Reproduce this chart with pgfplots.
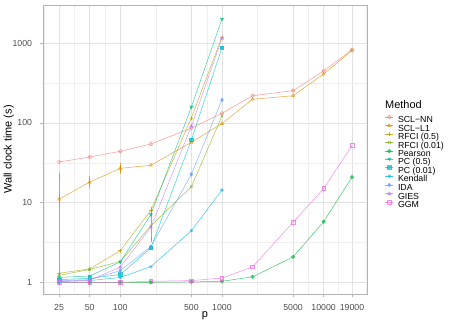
\documentclass[border=0pt]{standalone}
\usepackage{fontspec}
\setmainfont{Liberation Sans}
\usepackage{pgfplots}
\pgfplotsset{compat=1.18}

\definecolor{cA}{HTML}{F8766D}
\definecolor{cB}{HTML}{DE8C00}
\definecolor{cC}{HTML}{B79F00}
\definecolor{cD}{HTML}{7CAE00}
\definecolor{cE}{HTML}{00BA38}
\definecolor{cF}{HTML}{00C08B}
\definecolor{cG}{HTML}{00BFC4}
\definecolor{cH}{HTML}{00B4F0}
\definecolor{cI}{HTML}{619CFF}
\definecolor{cJ}{HTML}{C77CFF}
\definecolor{cK}{HTML}{F564E3}
\definecolor{gridmaj}{HTML}{E2E2E2}
\definecolor{gridmin}{HTML}{EEEEEE}
\definecolor{framecol}{HTML}{B3B3B3}
\definecolor{tickgray}{HTML}{4D4D4D}

\pgfplotsset{
  meth/.style={color=#1, line width=0.5bp, opacity=0.75, mark size=1.8bp,
    mark options={solid, line width=0.6bp}},
  ebar/.style={forget plot, draw=none, mark=none, opacity=0.75,
    error bars/.cd, y dir=both, y explicit, error mark=-,
    error bar style={draw=#1, line width=0.6bp},
    error mark options={draw=#1, line width=0.6bp, mark size=2.5bp}},
}

\begin{document}
\begin{tikzpicture}
\useasboundingbox (-43bp,-32bp) rectangle (414bp,294bp);
\begin{axis}[
  scale only axis,
  width=324bp, height=289bp,
  xmode=log, ymode=log,
  xmin=17.4, xmax=26660,
  ymin=0.713, ymax=3013,
  xtick={25,50,100,500,1000,5000,10000,19000},
  xticklabels={25,50,100,500,1000,5000,10000,19000},
  minor xtick={17.68,35.36,70.71,223.6,707.1,2236,7071,13784,26190},
  ytick={1,10,100,1000},
  yticklabels={1,10,100,1000},
  minor ytick={3.162,31.62,316.2},
  grid=both,
  major grid style={draw=gridmaj, line width=0.5bp},
  minor grid style={draw=gridmin, line width=0.3bp},
  axis line style={draw=framecol, line width=0.8bp},
  tick align=outside,
  major tick length=2.75bp,
  minor tick length=0bp,
  major tick style={draw=framecol, line width=0.5bp},
  xtick pos=bottom, ytick pos=left,
  tick label style={font=\fontsize{8.8}{10}\selectfont, text=tickgray},
  yticklabel style={anchor=east, inner sep=0pt, xshift=-8bp},
  xticklabel style={anchor=north, inner sep=0pt, yshift=-7bp},
  xlabel={p},
  ylabel={Wall clock time (s)},
  label style={font=\fontsize{11}{13}\selectfont},
  xlabel style={at={(axis description cs:0.5,-0.0612)}, anchor=north, inner sep=0pt},
  ylabel style={at={(axis description cs:-0.0895,0.5)}, anchor=south, inner sep=0pt},
  legend style={at={(axis description cs:1.0556,0.619)}, anchor=north west,
    draw=none, fill=none, inner sep=0pt, outer sep=0pt, row sep=0pt,
    column sep=4.5bp, font=\fontsize{8.8}{9}\selectfont,
    nodes={inner sep=0pt, text height=6.5bp, text depth=1.27bp}},
  legend cell align=left,
  legend image code/.code={
    \draw[mark repeat=2, mark phase=2, #1]
      plot coordinates {(0bp,3bp) (4bp,3bp) (8bp,3bp)};},
]
% SCL-NN
\addplot[meth=cA, mark=o] coordinates {
  (25,32.3) (50,37.3) (100,44) (200,54.4) (500,86) (1000,132)
  (2000,219) (5000,254) (10000,448) (19000,830)};
\addlegendentry{SCL−NN}
% SCL-L1
\addplot[meth=cB, mark=triangle] coordinates {
  (25,11) (50,18.1) (100,26.9) (200,29.4) (500,57) (1000,98)
  (2000,198) (5000,219) (10000,411) (19000,810)};
\addlegendentry{SCL−L1}
% RFCI (0.5)
\addplot[meth=cC, mark=+] coordinates {
  (25,1.3) (50,1.47) (100,2.49) (200,8.0) (500,115) (1000,1200)};
\addlegendentry{RFCI (0.5)}
% RFCI (0.01)
\addplot[meth=cD, mark=x] coordinates {
  (25,1.22) (50,1.45) (100,1.82) (200,5.1) (500,15.8) (1000,122)};
\addlegendentry{RFCI (0.01)}
% Pearson
\addplot[meth=cE, mark=oplus] coordinates {
  (25,1.0) (50,1.0) (100,1.0) (200,1.0) (500,1.01) (1000,1.03)
  (2000,1.17) (5000,2.08) (10000,5.76) (19000,20.9)};
\addlegendentry{Pearson}
% PC (0.5)
\addplot[meth=cF, mark=triangle*, mark options={rotate=180}] coordinates {
  (25,1.15) (50,1.2) (100,1.8) (200,7.1) (500,158) (1000,2013)};
\addlegendentry{PC (0.5)}
% PC (0.01)
\addplot[meth=cG, mark=square*] coordinates {
  (25,1.08) (50,1.12) (100,1.25) (200,2.7) (500,61) (1000,878)};
\addlegendentry{PC (0.01)}
% Kendall
\addplot[meth=cH, mark=asterisk] coordinates {
  (25,1.02) (50,1.05) (100,1.15) (200,1.57) (500,4.44) (1000,14.4)};
\addlegendentry{Kendall}
% IDA
\addplot[meth=cI, mark=diamond*] coordinates {
  (25,1.05) (50,1.08) (100,1.4) (200,2.8) (500,22.6) (1000,194)};
\addlegendentry{IDA}
% GIES
\addplot[meth=cJ, mark=triangle*] coordinates {
  (25,1.03) (50,1.06) (100,1.55) (200,4.9) (500,91) (1000,1150)};
\addlegendentry{GIES}
% GGM
\addplot[meth=cK, mark=square] coordinates {
  (25,1.0) (50,1.0) (100,1.0) (200,1.03) (500,1.05) (1000,1.13)
  (2000,1.56) (5000,5.66) (10000,15) (19000,52)};
\addlegendentry{GGM}

% error bars
\addplot[ebar=cB] coordinates {
  (25,11) += (0,1.2) -= (0,0.6)
  (50,18.1) += (0,1.7) -= (0,1.6)
  (100,26.9) += (0,2.6) -= (0,2.4)};
\addplot[ebar=cC] coordinates {
  (25,1.3) += (0,20.7) -= (0,0.05)};
\addplot[ebar=cD] coordinates {
  (200,5.1) += (0,3.0) -= (0,1.7)};
\end{axis}
\node[anchor=west, inner sep=0pt, font=\fontsize{11}{13}\selectfont] at (342bp,189.7bp) {Method};
\end{tikzpicture}
\end{document}
